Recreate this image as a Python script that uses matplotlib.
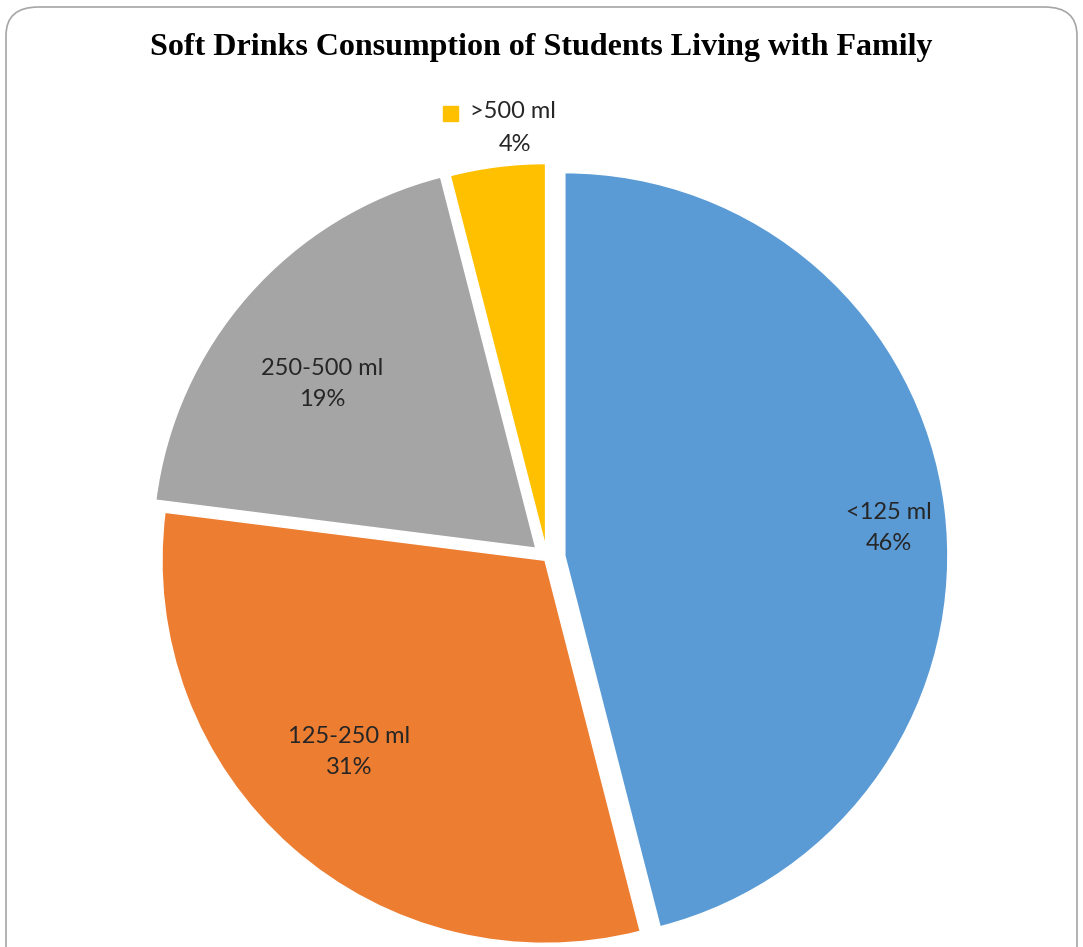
import matplotlib.pyplot as plt
from matplotlib.patches import FancyBboxPatch, Rectangle

categories = ["<125 ml", "125-250 ml", "250-500 ml", ">500 ml"]
shares = [46, 31, 19, 4]
colors = ["#5B9BD5", "#ED7D31", "#A5A5A5", "#FFC000"]
title = "Soft Drinks Consumption of Students Living with Family"

W, H = 1083, 947
fig = plt.figure(figsize=(W / 100, H / 100), dpi=100)

# rounded chart frame, running off the bottom edge
frame = FancyBboxPatch((6 / W, -30 / H), 1071 / W, 970 / H,
                       boxstyle="round,pad=0,rounding_size=0.03",
                       transform=fig.transFigure, facecolor="none",
                       edgecolor="#A6A6A6", linewidth=1.2, zorder=-1)
fig.patches.append(frame)

# pie centre and radius in pixels
R = 383
cx, cy = 547, H - 558
lim = 1.25
ax = fig.add_axes([(cx - lim * R) / W, (cy - lim * R) / H,
                   2 * lim * R / W, 2 * lim * R / H])
ax.set_xlim(-lim, lim)
ax.set_ylim(-lim, lim)
ax.axis("off")

wedges, _ = ax.pie(shares, colors=colors, startangle=90, counterclock=False,
                   explode=[0.047, 0.008, 0.039, 0.030], radius=1,
                   wedgeprops=dict(edgecolor="white", linewidth=1.0))
for w in wedges:
    w.set_clip_on(False)

lab_font = dict(family="Lato", fontsize=17, color="#262626",
                ha="center", va="center", linespacing=1.6)
label_pos = [(0.893, 0.078), (-0.517, -0.507), (-0.587, 0.454)]
for (x, y), name, v in zip(label_pos, categories[:3], shares[:3]):
    ax.text(x, y, f"{name}\n{v}%", **lab_font)

# small slice labelled outside with its colour key
ax.text(-0.089, 1.165, categories[3], **lab_font)
ax.text(-0.084, 1.080, f"{shares[3]}%", **lab_font)
ax.add_patch(Rectangle((-0.272, 1.141), 0.039, 0.039, color=colors[3],
                       clip_on=False))

fig.text(0.5, 1 - 47 / H, title, family="Liberation Serif",
         fontweight="bold", fontsize=23, ha="center", va="center")

fig.savefig("out.png", dpi=100)
